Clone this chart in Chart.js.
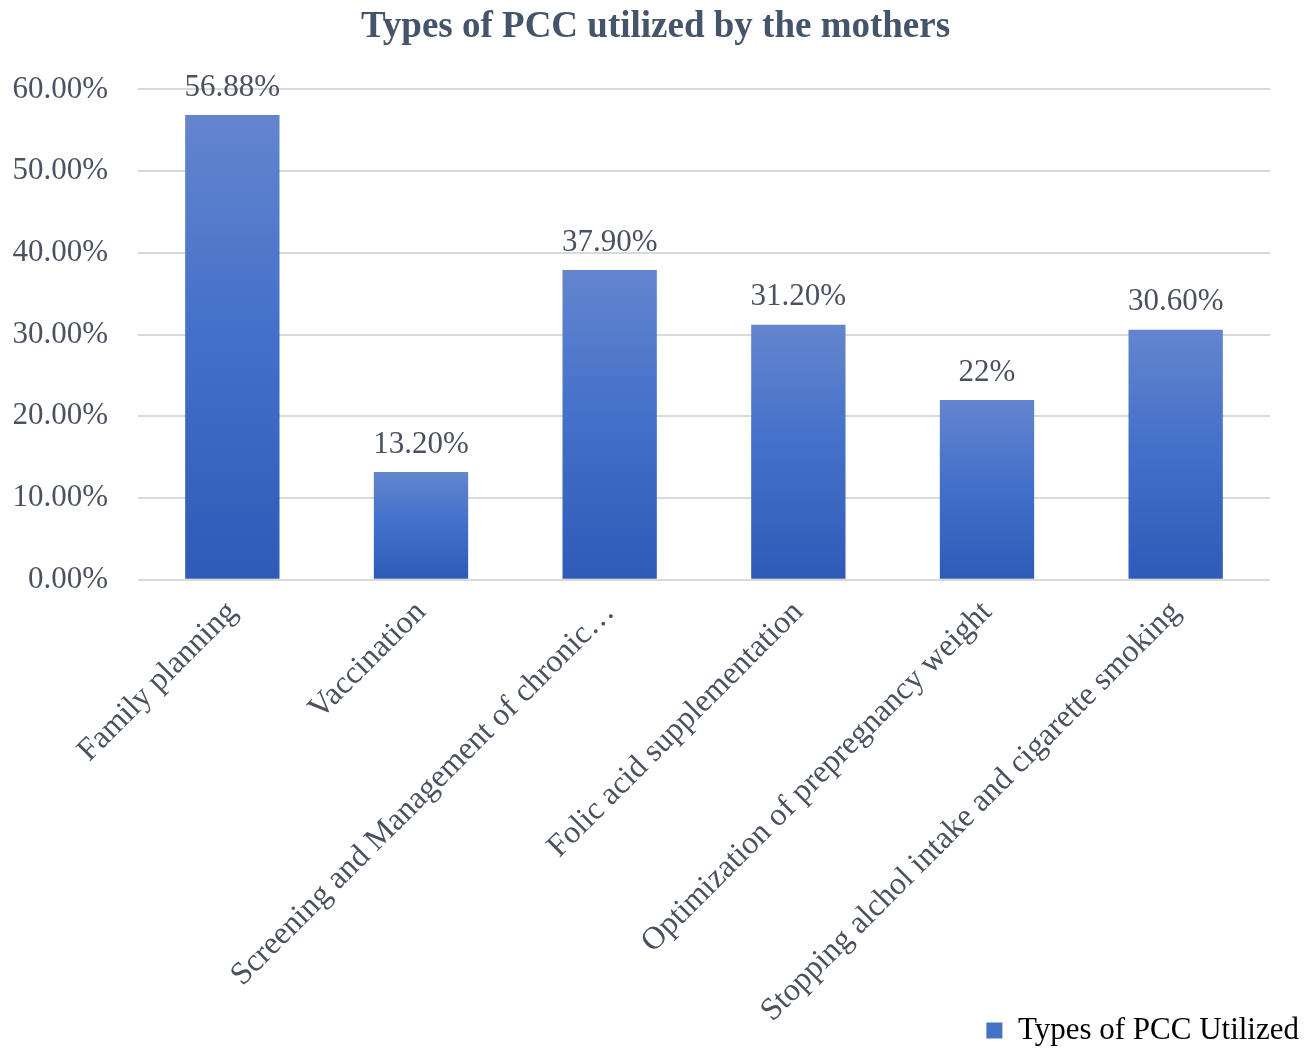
<!DOCTYPE html>
<html>
<head>
<meta charset="utf-8">
<script src="https://cdn.jsdelivr.net/npm/chart.js"></script>
<style>
html,body{margin:0;padding:0;background:#fff;}
#wrap{width:1309px;height:1048px;}
</style>
</head>
<body>
<div id="wrap"><canvas id="c" width="1309" height="1048"></canvas></div>
<script>
const categories = [
  "Family planning",
  "Vaccination",
  "Screening and Management of chronic…",
  "Folic acid supplementation",
  "Optimization of prepregnancy weight",
  "Stopping alchol intake and cigarette smoking"
];
const values = [56.88, 13.20, 37.90, 31.20, 22, 30.60];
const valueLabels = ["56.88%", "13.20%", "37.90%", "31.20%", "22%", "30.60%"];
const seriesName = "Types of PCC Utilized";
const chartTitle = "Types of PCC utilized by the mothers";

const FONT = "'Liberation Serif', 'Times New Roman', serif";
const TEXT = "#4A5261";

function barGradient(ctx) {
  const chart = ctx.chart;
  const ys = chart.scales.y;
  if (!ys || ctx.dataIndex === undefined) return "#4472C4";
  const v = ctx.dataset.data[ctx.dataIndex];
  const top = ys.getPixelForValue(v);
  const bottom = ys.getPixelForValue(0);
  if (!isFinite(top) || !isFinite(bottom) || top === bottom) return "#4472C4";
  const g = chart.ctx.createLinearGradient(0, top, 0, bottom);
  g.addColorStop(0, "#6485CE");
  g.addColorStop(0.5, "#416FC9");
  g.addColorStop(1, "#2E5BB7");
  return g;
}

const valueLabelPlugin = {
  id: "valueLabels",
  afterLayout(chart) {
    // let the rotated category labels run down past the legend strip, as in the reference
    const xs = chart.scales.x;
    if (xs) xs.bottom = chart.height;
  },
  afterDatasetsDraw(chart) {
    const c = chart.ctx;
    const meta = chart.getDatasetMeta(0);
    c.save();
    c.font = "31px " + FONT;
    c.fillStyle = TEXT;
    c.textAlign = "center";
    c.textBaseline = "bottom";
    meta.data.forEach((bar, i) => {
      c.fillText(valueLabels[i], bar.x, bar.y - 12);
    });
    c.restore();
  }
};

new Chart(document.getElementById("c"), {
  type: "bar",
  data: {
    labels: categories,
    datasets: [{
      label: seriesName,
      data: values,
      backgroundColor: barGradient,
      borderWidth: 0,
      categoryPercentage: 1.0,
      barPercentage: 0.5
    }]
  },
  options: {
    responsive: false,
    animation: false,
    layout: { padding: { left: 10, right: 8, top: 4, bottom: -8 } },
    plugins: {
      title: {
        display: true,
        text: chartTitle,
        color: "#44546A",
        font: { family: FONT, size: 37, weight: "bold" },
        padding: { top: 1, bottom: 40 }
      },
      legend: {
        display: true,
        position: "bottom",
        align: "end",
        labels: {
          color: TEXT,
          font: { family: FONT, size: 31 },
          boxWidth: 16,
          boxHeight: 16,
          padding: 2,
          generateLabels() {
            return [{ text: seriesName, fillStyle: "#4472C4", strokeStyle: "#4472C4", lineWidth: 0, datasetIndex: 0 }];
          }
        }
      },
      tooltip: { enabled: false }
    },
    scales: {
      x: {
        grid: { display: false, drawTicks: false },
        border: { display: false },
        ticks: {
          color: TEXT,
          font: { family: FONT, size: 32 },
          maxRotation: 45,
          minRotation: 45,
          autoSkip: false,
          padding: 14
        },
        afterFit(scale) {
          scale.paddingLeft = 0;
          scale.height = scale.height - 31;
        }
      },
      y: {
        min: 0,
        max: 60,
        grid: { color: "#D9D9D9", lineWidth: 2, drawTicks: false },
        border: { display: false },
        ticks: {
          stepSize: 10,
          color: TEXT,
          font: { family: FONT, size: 31 },
          padding: 30,
          callback: v => v.toFixed(2) + "%"
        },
        afterFit(scale) { scale.width = 128; }
      },
      yRight: {
        position: "right",
        display: true,
        grid: { display: false, drawTicks: false },
        border: { display: false },
        ticks: { display: false },
        afterFit(scale) { scale.width = 31; }
      }
    }
  },
  plugins: [valueLabelPlugin]
});
</script>
</body>
</html>
